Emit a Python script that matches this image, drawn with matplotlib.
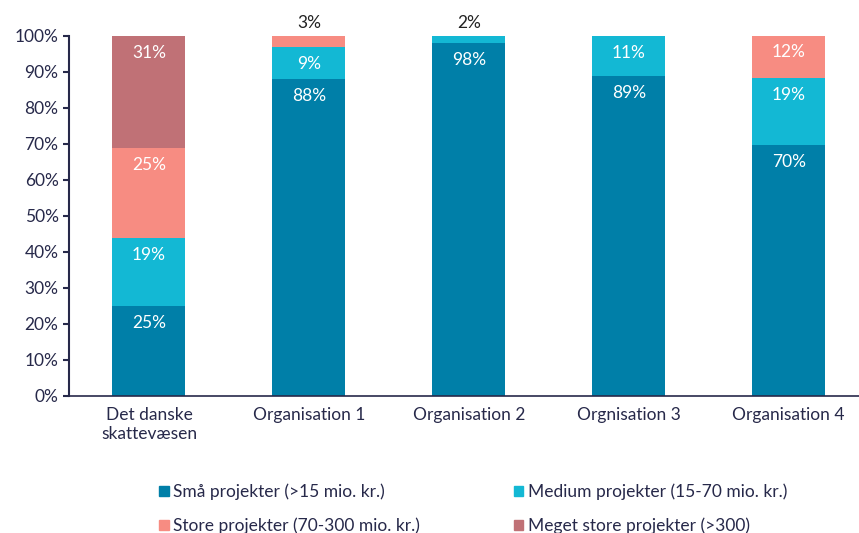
import matplotlib
matplotlib.use("Agg")
import matplotlib.pyplot as plt
from matplotlib.patches import Patch
from matplotlib.ticker import PercentFormatter

# Data (shares in percent)
categories = ["Det danske\nskattevæsen", "Organisation 1", "Organisation 2",
              "Orgnisation 3", "Organisation 4"]
small = [25, 88, 98, 89, 69.6]
medium = [19, 9, 2, 11, 18.6]
large = [25, 3, 0, 0, 12]
very_large = [31, 0, 0, 0, 0]

series = [
    ("Små projekter (>15 mio. kr.)", small, "#007fa8"),
    ("Medium projekter (15-70 mio. kr.)", medium, "#13b8d4"),
    ("Store projekter (70-300 mio. kr.)", large, "#f78c82"),
    ("Meget store projekter (>300)", very_large, "#c07176"),
]

dark = "#27294a"
fs = 12.5
plt.rcParams['font.family'] = ['Lato', 'DejaVu Sans']

fig = plt.figure(figsize=(8.59, 5.33), dpi=100)
ax = fig.add_axes([69 / 859, 1 - 396 / 533, (859 - 69) / 859, 360 / 533])

x = list(range(len(categories)))
bottom = [0] * len(categories)
for name, vals, color in series:
    ax.bar(x, vals, width=0.456, bottom=bottom, color=color, label=name)
    for i, v in enumerate(vals):
        if v <= 0:
            continue
        if v >= 5:
            ax.text(i, bottom[i] + v - 2.5, f"{v:.0f}%", ha="center", va="top",
                    color="white", fontsize=fs)
        else:
            ax.text(i, 101.5, f"{v:.0f}%", ha="center", va="bottom",
                    color="#222222", fontsize=fs)
    bottom = [b + v for b, v in zip(bottom, vals)]

ax.set_xlim(-0.5, 4.44)
ax.set_ylim(0, 100)
ax.set_yticks(range(0, 101, 10))
ax.yaxis.set_major_formatter(PercentFormatter(decimals=0))
ax.set_xticks(x)
ax.set_xticklabels(categories)
ax.tick_params(axis="x", length=0, pad=8, labelsize=fs, colors=dark)
ax.tick_params(axis="y", length=4, width=1.5, labelsize=fs, colors=dark)
for s in ["top", "right"]:
    ax.spines[s].set_visible(False)
for s in ["left", "bottom"]:
    ax.spines[s].set_color(dark)
    ax.spines[s].set_linewidth(1.5)
ax.spines["bottom"].set_linewidth(1.2)

# legend is filled row by row: Små, Medium / Store, Meget
order = [0, 2, 1, 3]
handles = [Patch(color=series[k][2], label=series[k][0]) for k in order]
fig.legend(handles=handles, ncol=2, loc="center", bbox_to_anchor=(0.551, 1 - 509 / 533),
           frameon=False, fontsize=fs, handlelength=0.55, handleheight=0.55,
           handletextpad=0.25, columnspacing=5.4, labelspacing=1.0,
           labelcolor=dark)

fig.savefig("out.png", dpi=100)
